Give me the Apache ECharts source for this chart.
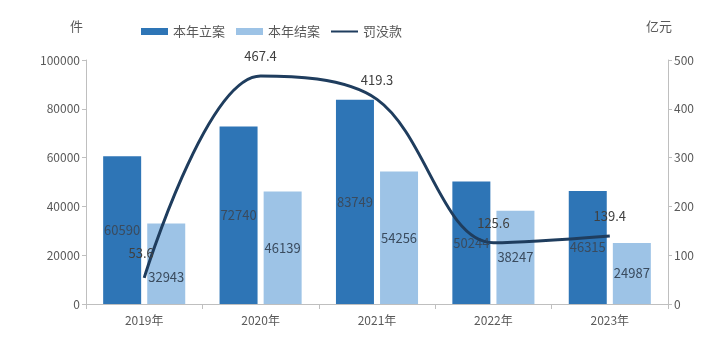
<!DOCTYPE html>
<html>
<head>
<meta charset="utf-8">
<script src="https://cdn.jsdelivr.net/npm/echarts@6/dist/echarts.min.js"></script>
<style>
  html, body { margin: 0; padding: 0; background: #fff; }
  #chart { width: 720px; height: 345px; }
</style>
</head>
<body>
<div id="chart"></div>
<script>
// Yearly case counts (件) and fines/confiscations (亿元)
const years = ['2019年', '2020年', '2021年', '2022年', '2023年'];
const filedCases = [60590, 72740, 83749, 50244, 46315];   // 本年立案
const closedCases = [32943, 46139, 54256, 38247, 24987];  // 本年结案
const fines = [53.6, 467.4, 419.3, 125.6, 139.4];         // 罚没款
const leftTicks = { min: 0, max: 100000, interval: 20000 };
const rightTicks = { min: 0, max: 500, interval: 100 };

const FONT = '"Noto Sans CJK SC", "Microsoft YaHei", sans-serif';
const AXIS_GRAY = '#bfbfbf';
const TEXT_GRAY = '#595959';
const BAR_LABEL = '#3a4b5e';
const LINE_COLOR = '#1f3d5e';

const chart = echarts.init(document.getElementById('chart'), null, { renderer: 'canvas' });

const barLabel = {
  show: true,
  position: 'inside',
  color: BAR_LABEL,
  fontFamily: FONT,
  fontSize: 13
};

// thin bar centred in a 27x7 box, used as the line's legend key
const lineIcon = 'path://M0,2.5H27V4.5H0Z M0,0H0.01V0.01H0Z M26.99,6.99H27V7H26.99Z';

chart.setOption({
  animation: false,
  textStyle: { fontFamily: FONT },
  grid: { left: 86, right: 52, top: 60, bottom: 41, containLabel: false },
  legend: {
    top: 20,
    left: 136,
    itemWidth: 27,
    itemHeight: 7,
    itemGap: 11,
    textStyle: { color: TEXT_GRAY, fontSize: 13, fontFamily: FONT },
    data: [
      { name: '本年立案', icon: 'rect' },
      { name: '本年结案', icon: 'rect' },
      { name: '罚没款', icon: lineIcon, itemStyle: { color: LINE_COLOR } }
    ]
  },
  xAxis: {
    type: 'category',
    data: years,
    axisLine: { lineStyle: { color: AXIS_GRAY } },
    axisTick: { show: true, alignWithLabel: false, length: 5, lineStyle: { color: AXIS_GRAY } },
    axisLabel: { color: TEXT_GRAY, fontSize: 12, margin: 10 }
  },
  yAxis: [
    {
      type: 'value',
      name: '件',
      nameLocation: 'end',
      nameGap: 27,
      nameTextStyle: { color: TEXT_GRAY, fontSize: 13, align: 'right', padding: [0, 3, 0, 0] },
      min: leftTicks.min, max: leftTicks.max, interval: leftTicks.interval,
      axisLine: { show: true, lineStyle: { color: AXIS_GRAY } },
      axisTick: { show: true, length: 4, lineStyle: { color: AXIS_GRAY } },
      axisLabel: { color: TEXT_GRAY, fontSize: 12, margin: 6, formatter: v => String(v) },
      splitLine: { show: false }
    },
    {
      type: 'value',
      name: '亿元',
      nameLocation: 'end',
      nameGap: 27,
      nameTextStyle: { color: TEXT_GRAY, fontSize: 13, align: 'left', padding: [0, 0, 0, -22] },
      min: rightTicks.min, max: rightTicks.max, interval: rightTicks.interval,
      axisLine: { show: true, lineStyle: { color: AXIS_GRAY } },
      axisTick: { show: true, length: 4, lineStyle: { color: AXIS_GRAY } },
      axisLabel: { color: TEXT_GRAY, fontSize: 12, margin: 6 },
      splitLine: { show: false }
    }
  ],
  series: [
    {
      name: '本年立案',
      type: 'bar',
      data: filedCases,
      barWidth: 38,
      barGap: '16%',
      itemStyle: { color: '#2e75b6' },
      label: barLabel
    },
    {
      name: '本年结案',
      type: 'bar',
      data: closedCases.map((v, i) => i === 0
        ? { value: v, label: { offset: [0, 13] } }
        : v),
      barWidth: 38,
      itemStyle: { color: '#9dc3e6' },
      label: barLabel
    },
    {
      name: '罚没款',
      type: 'line',
      yAxisIndex: 1,
      data: fines.map((v, i) => i === 0
        ? { value: v, label: { offset: [-3, -5] } }
        : v),
      smooth: 0.35,
      symbol: 'circle',
      symbolSize: 0,
      showSymbol: true,
      lineStyle: { color: LINE_COLOR, width: 3 },
      itemStyle: { color: LINE_COLOR },
      label: {
        show: true,
        position: 'top',
        distance: 13,
        color: '#404040',
        fontSize: 13,
        fontFamily: FONT
      },
      z: 5
    }
  ]
});
</script>
</body>
</html>
